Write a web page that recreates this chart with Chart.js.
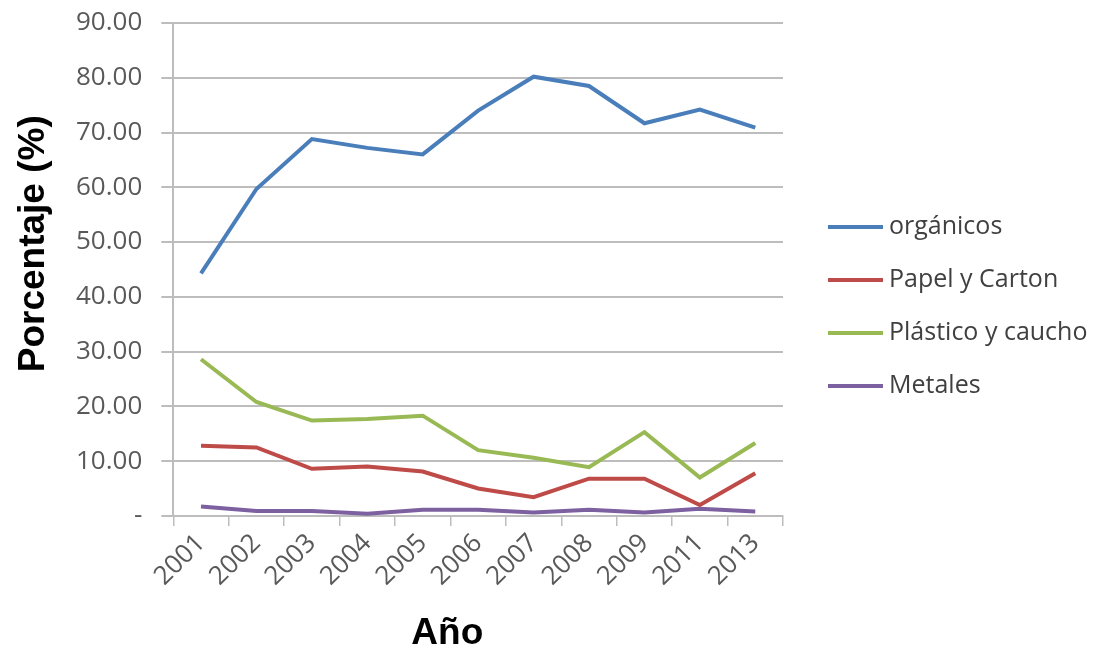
<!DOCTYPE html>
<html>
<head>
<meta charset="utf-8">
<script src="https://cdn.jsdelivr.net/npm/chart.js@4/dist/chart.umd.min.js"></script>
<style>
  html, body { margin: 0; padding: 0; background: #fff; }
  #wrap { width: 1099px; height: 652px; }
</style>
</head>
<body>
<div id="wrap"><canvas id="chart"></canvas></div>
<script>
'use strict';

var years = ['2001', '2002', '2003', '2004', '2005', '2006', '2007', '2008', '2009', '2011', '2013'];
var organicos = [44.3, 59.7, 68.8, 67.2, 66.0, 74.0, 80.2, 78.5, 71.7, 74.2, 70.9];
var papelCarton = [12.8, 12.5, 8.6, 9.0, 8.1, 5.0, 3.4, 6.8, 6.8, 2.0, 7.8];
var plasticoCaucho = [28.6, 20.8, 17.4, 17.7, 18.3, 12.0, 10.6, 8.9, 15.3, 7.0, 13.3];
var metales = [1.7, 0.9, 0.9, 0.4, 1.1, 1.1, 0.6, 1.1, 0.6, 1.3, 0.8];
var seriesNames = ['orgánicos', 'Papel y Carton', 'Plástico y caucho', 'Metales'];
var seriesColors = ['#4a7ebb', '#be4b48', '#98b954', '#7d60a0'];

var gridColor = '#bdbdbd';
var tickColor = '#595959';

var makeDataset = function makeDataset(idx, values) {
  return {
    label: seriesNames[idx],
    data: values,
    borderColor: seriesColors[idx],
    backgroundColor: seriesColors[idx],
    borderWidth: 4,
    pointRadius: 0,
    tension: 0
  };
};

// the built-in legend is capped at a quarter of the canvas width, so draw the
// Excel-style legend (short line + label) ourselves in the right margin
var sideLegend = {
  id: 'sideLegend',
  afterDraw: function(chart) {
    var ctx = chart.ctx,
      x = chart.chartArea.right + 45,
      rowGap = 53,
      items = chart.data.datasets,
      y = chart.height * 0.47 - rowGap * (items.length - 1) / 2;

    ctx.save();
    ctx.font = '25px "Open Sans"';
    ctx.textBaseline = 'middle';
    ctx.textAlign = 'left';
    items.forEach(function(ds, i) {
      var rowY = y + i * rowGap;
      ctx.strokeStyle = ds.borderColor;
      ctx.lineWidth = 4;
      ctx.beginPath();
      ctx.moveTo(x, rowY);
      ctx.lineTo(x + 55, rowY);
      ctx.stroke();
      ctx.fillStyle = '#404040';
      ctx.fillText(ds.label, x + 61, rowY);
    });
    ctx.restore();
  }
};

var drawChart = function drawChart() {
  return new Chart(document.getElementById('chart'), {
    type: 'line',
    data: {
      labels: years,
      datasets: [
        makeDataset(0, organicos),
        makeDataset(1, papelCarton),
        makeDataset(2, plasticoCaucho),
        makeDataset(3, metales)
      ]
    },
    plugins: [sideLegend],
    options: {
      responsive: true,
      maintainAspectRatio: false,
      animation: false,
      layout: { padding: { top: 23, left: 10, right: 316, bottom: 0 } },
      plugins: {
        tooltip: { enabled: false },
        legend: { display: false }
      },
      scales: {
        x: {
          offset: true,
          grid: {
            offset: true,
            drawOnChartArea: false,
            color: gridColor,
            tickLength: 10,
            lineWidth: 1.5
          },
          border: { color: gridColor, width: 2 },
          ticks: {
            autoSkip: false,
            maxRotation: 45,
            minRotation: 45,
            color: tickColor,
            font: { family: 'Open Sans', size: 26 },
            padding: 2
          },
          title: {
            display: true,
            text: 'Año      ',
            color: '#000',
            font: { family: 'Liberation Sans', size: 37, weight: 'bold', lineHeight: 1 },
            padding: { top: 21, bottom: 0 }
          }
        },
        y: {
          min: 0,
          max: 90,
          grid: {
            color: gridColor,
            lineWidth: 2,
            tickLength: 12
          },
          border: { color: gridColor, width: 2 },
          ticks: {
            stepSize: 10,
            color: tickColor,
            padding: 19,
            // tiny line height so the top label doesn't push the plot down
            font: { family: 'Open Sans', size: 26, lineHeight: 0.01 },
            callback: function(value) {
              return value === 0 ? '-' : value.toFixed(2);
            }
          },
          title: {
            display: true,
            text: '     Porcentaje (%)',
            color: '#000',
            font: { family: 'Liberation Sans', size: 37, weight: 'bold', lineHeight: 1.27 },
            padding: { top: 0, bottom: 0 }
          }
        }
      }
    }
  });
};

// make sure the local fonts are ready before Chart.js measures text
Promise.all([
  document.fonts.load('25px "Open Sans"'),
  document.fonts.load('bold 36px "Liberation Sans"')
]).then(drawChart, drawChart);
</script>
</body>
</html>
